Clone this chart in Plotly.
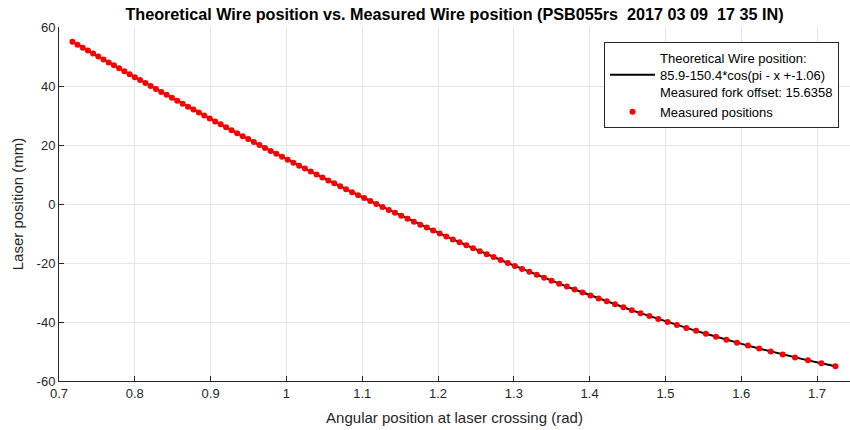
import plotly.graph_objects as go

# Angular position at laser crossing (rad) of each measured point
angle_rad = [
    0.7177, 0.7245, 0.7313, 0.7381, 0.7450, 0.7518, 0.7587, 0.7655, 0.7724, 0.7793, 0.7862,
    0.7931, 0.8000, 0.8070, 0.8140, 0.8209, 0.8279, 0.8349, 0.8420, 0.8490, 0.8560,
    0.8631, 0.8702, 0.8773, 0.8845, 0.8916, 0.8988, 0.9060, 0.9132, 0.9204, 0.9277,
    0.9350, 0.9423, 0.9496, 0.9570, 0.9644, 0.9718, 0.9792, 0.9867, 0.9942, 1.0017,
    1.0092, 1.0168, 1.0244, 1.0321, 1.0398, 1.0475, 1.0553, 1.0631, 1.0709, 1.0787,
    1.0866, 1.0946, 1.1026, 1.1106, 1.1187, 1.1268, 1.1350, 1.1432, 1.1515, 1.1598,
    1.1682, 1.1766, 1.1851, 1.1936, 1.2022, 1.2109, 1.2196, 1.2284, 1.2373, 1.2462,
    1.2552, 1.2642, 1.2734, 1.2826, 1.2920, 1.3014, 1.3109, 1.3205, 1.3302, 1.3400,
    1.3498, 1.3598, 1.3699, 1.3802, 1.3906, 1.4011, 1.4118, 1.4226, 1.4335, 1.4445,
    1.4557, 1.4671, 1.4788, 1.4906, 1.5028, 1.5151, 1.5276, 1.5404, 1.5534, 1.5667,
    1.5804, 1.5944, 1.6088, 1.6236, 1.6389, 1.6547, 1.6710, 1.6880, 1.7057, 1.7243,
]

# Laser position (mm) of each measured point
laser_mm = [
    55, 54, 53, 52, 51, 50, 49, 48, 47, 46, 45,
    44, 43, 42, 41, 40, 39, 38, 37, 36, 35,
    34, 33, 32, 31, 30, 29, 28, 27, 26, 25,
    24, 23, 22, 21, 20, 19, 18, 17, 16, 15,
    14, 13, 12, 11, 10, 9, 8, 7, 6, 5,
    4, 3, 2, 1, 0, -1, -2, -3, -4, -5,
    -6, -7, -8, -9, -10, -11, -12, -13, -14, -15,
    -16, -17, -18, -19, -20, -21, -22, -23, -24, -25,
    -26, -27, -28, -29, -30, -31, -32, -33, -34, -35,
    -36, -37, -38, -39, -40, -41, -42, -43, -44, -45,
    -46, -47, -48, -49, -50, -51, -52, -53, -54, -55,
]

# Theoretical curve evaluated at the same angles (coincides with the points)
theory_x = angle_rad
theory_y = laser_mm

x_ticks = [0.7, 0.8, 0.9, 1.0, 1.1, 1.2, 1.3, 1.4, 1.5, 1.6, 1.7]
x_ticklabels = ["0.7", "0.8", "0.9", "1", "1.1", "1.2", "1.3", "1.4", "1.5", "1.6", "1.7"]
y_ticks = [-60, -40, -20, 0, 20, 40, 60]
y_ticklabels = ["-60", "-40", "-20", "0", "20", "40", "60"]

title_text = ("Theoretical Wire position vs. Measured Wire position "
              "(PSB055rs \u00a02017 03 09 \u00a017 35 IN)")
theory_name = ("Theoretical Wire position:<br>85.9-150.4*cos(pi - x +-1.06)"
               "<br>Measured fork offset: 15.6358")

FONT = "Liberation Sans, Arial, Helvetica, sans-serif"
AX = "#262626"

fig = go.Figure()
fig.add_trace(go.Scatter(
    x=theory_x, y=theory_y, mode="lines", name=theory_name,
    line=dict(color="black", width=2),
))
fig.add_trace(go.Scatter(
    x=angle_rad, y=laser_mm, mode="markers", name="Measured positions",
    marker=dict(color="#ff0000", size=6, line=dict(width=0)),
))

fig.update_layout(
    width=850, height=430,
    margin=dict(l=59, r=0, t=27, b=49),
    paper_bgcolor="white", plot_bgcolor="white",
    font=dict(family=FONT, color=AX, size=13),
    title=dict(text="<b>" + title_text + "</b>", font=dict(size=16.2, color="black"),
               xref="paper", x=0.5, xanchor="center",
               yref="container", y=1 - 14 / 430, yanchor="middle"),
    showlegend=True,
    legend=dict(
        x=0.9861, xanchor="right", y=0.9576, yanchor="top",
        bgcolor="white", bordercolor=AX, borderwidth=1,
        font=dict(size=13, color="black", family=FONT),
        itemwidth=45, tracegroupgap=0,
    ),
)
fig.update_xaxes(
    range=[0.7, 1.7435], tickvals=x_ticks, ticktext=x_ticklabels,
    showgrid=True, gridcolor="#e5e5e5", gridwidth=1,
    showline=True, linecolor=AX, linewidth=1, mirror=False,
    ticks="inside", ticklen=5, tickcolor=AX, zeroline=False,
    tickfont=dict(size=13, color=AX),
    title=dict(text="Angular position at laser crossing (rad)",
               font=dict(size=15, color=AX), standoff=12),
)
fig.update_yaxes(
    range=[-60, 60], tickvals=y_ticks, ticktext=y_ticklabels,
    showgrid=True, gridcolor="#e5e5e5", gridwidth=1,
    showline=True, linecolor=AX, linewidth=1, mirror=False,
    ticks="inside", ticklen=5, tickcolor=AX, zeroline=False,
    tickfont=dict(size=13, color=AX),
    title=dict(text="Laser position (mm)", font=dict(size=15, color=AX), standoff=9),
)

fig.write_html("out.html")
